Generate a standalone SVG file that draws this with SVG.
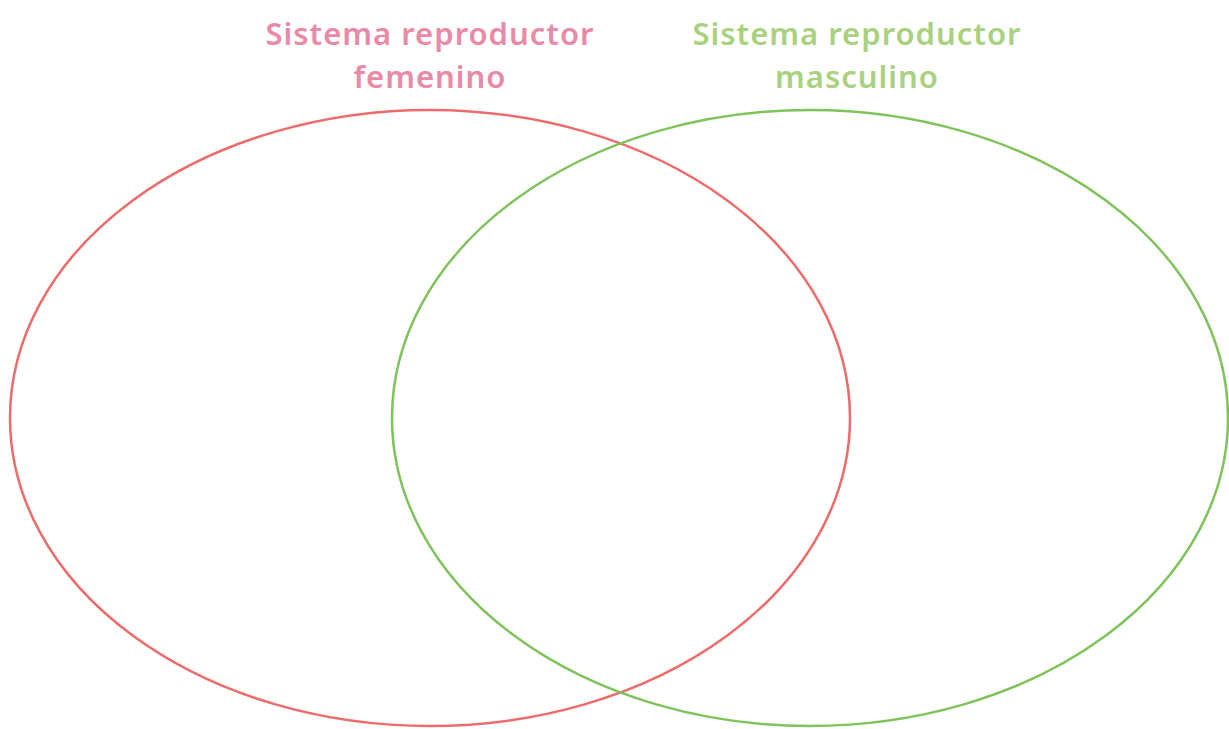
<svg xmlns="http://www.w3.org/2000/svg" width="1229" height="729" viewBox="0 0 1229 729">
<style>
.t{font-family:"Noto Sans","Liberation Sans",sans-serif;font-weight:600;font-size:31px;letter-spacing:1px;text-anchor:middle}
.f{fill:#e98aa6}
.m{fill:#a9d17f}
.e{fill:none;stroke-width:2.5}
</style>
<rect width="1229" height="729" fill="#ffffff"/>
<g id="femenino">
<ellipse class="e" cx="430" cy="418" rx="420" ry="308" stroke="#ee6b6b"/>
<text class="t f" x="430" y="45">Sistema reproductor</text>
<text class="t f" x="430" y="88">femenino</text>
</g>
<g id="masculino">
<ellipse class="e" cx="810" cy="418" rx="418" ry="308" stroke="#80c25c"/>
<text class="t m" x="857" y="45">Sistema reproductor</text>
<text class="t m" x="857" y="88">masculino</text>
</g>
<g id="connectors"></g>
</svg>
